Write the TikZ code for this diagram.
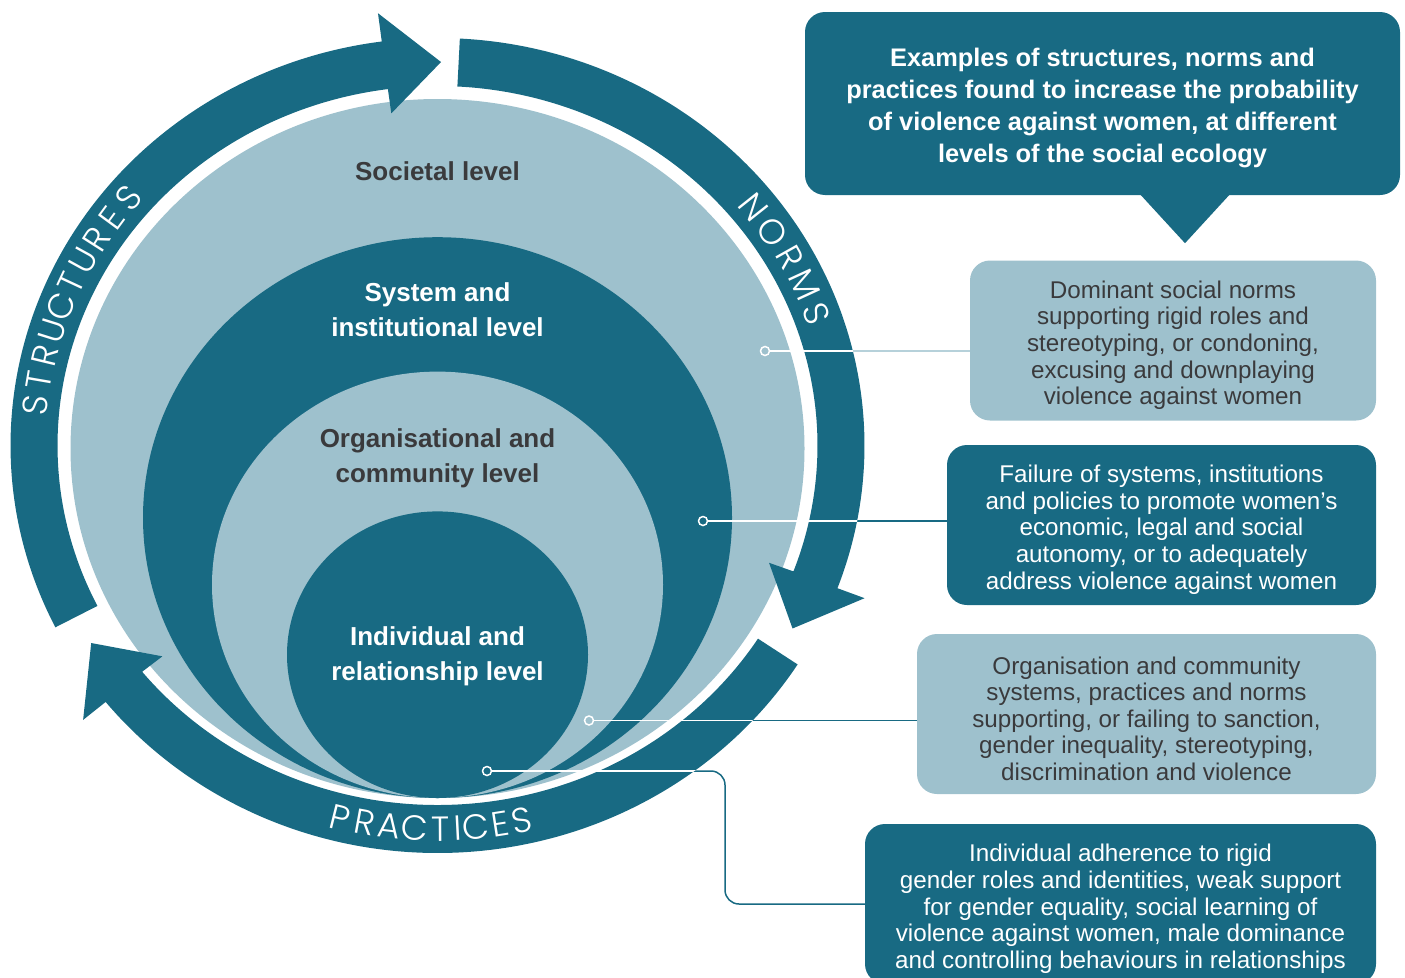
\documentclass[tikz,border=0pt]{standalone}
\usepackage{fontspec}
\setmainfont{Liberation Sans}
\IfFontExistsTF{Poppins Light}{\newfontfamily\arcfont{Poppins Light}}{\newfontfamily\arcfont{Poppins}}
\definecolor{ringdark}{HTML}{186A83}
\definecolor{ringlight}{HTML}{9EC1CD}
\definecolor{labelgray}{HTML}{3A3A3C}
\newcommand{\topstrut}{\rule{0pt}{27pt}}
\tikzset{%
  level/.style     = {font=\fontsize{26}{35}\selectfont\bfseries, align=center, inner sep=0pt},
  infobox/.style   = {rounded corners=20pt, minimum height=160pt, align=center, inner sep=0pt,
                      font=\fontsize{24.2}{26.6}\selectfont},
  lightbox/.style  = {infobox, fill=ringlight, text=labelgray},
  darkbox/.style   = {infobox, fill=ringdark, text=white},
  dot/.style       = {circle, draw=white, line width=1.5pt, minimum size=9pt, inner sep=0pt},
  link/.style      = {line width=1.5pt},
  arcletter/.style = {font=\arcfont\fontsize{35}{35}\selectfont, text=white, inner sep=0pt}
}
% band arrow round the levels: #1 tail angle, #2 angle where the head starts
\newcommand{\ringarrow}[2]{%
  \fill[ringdark] (#1:427 and 407.5)
    arc[start angle=#1, end angle=#2, x radius=427, y radius=407.5]
    -- (#2:456 and 436) -- ({#2-8}:404 and 383.5) -- (#2:354 and 335)
    -- (#2:380 and 359.5)
    arc[start angle=#2, end angle=#1, x radius=380, y radius=359.5] -- cycle;}

\begin{document}
\begin{tikzpicture}[x=1pt, y=-1pt]
  \useasboundingbox (0,0) rectangle (1405,977);

  % levels of the social ecology
  \fill[ringlight] (437.5,448.5) ellipse [x radius=367, y radius=349.5];
  \fill[ringdark]  (437.5,517.6) ellipse [x radius=294.5, y radius=280.4];
  \fill[ringlight] (437.5,584.8) ellipse [x radius=225.5, y radius=213.2];
  \fill[ringdark]  (437.5,654.7) ellipse [x radius=150.5, y radius=143.3];

  \node (societal)       [level, text=labelgray] at (437.5,170.8) {Societal level};
  \node (system)         [level, text=white]     at (437.5,310.2) {System and\\institutional level};
  \node (organisational) [level, text=labelgray] at (437.5,458.3) {Organisational and\\community level};
  \node (individual)     [level, text=white]     at (437.5,656.5) {Individual and\\relationship level};

  % structures, norms and practices
  \begin{scope}[shift={(437.5,445.5)}, yscale=-1]
    \ringarrow{206.5}{97.5}
    \ringarrow{87}{-20.5}
    \ringarrow{-32.5}{-141}
    \foreach \ch [count=\i from 0] in {S,T,R,U,C,T,U,R,E,S}
      \node [arcletter, rotate={84-3.8*\i}] at ({174-3.8*\i}:404 and 383.5) {\ch};
    \foreach \ch [count=\i from 0] in {N,O,R,M,S}
      \node [arcletter, rotate={-51.5-4.6*\i}] at ({38.5-4.6*\i}:404 and 383.5) {\ch};
    \foreach \ch/\a in {P/256, R/259.6, A/263.2, C/266.8, T/270.4, I/272.9, C/275.4, E/278.9, S/282.1}
      \node [arcletter, rotate={\a-270}] at (\a:404 and 383.5) {\ch};
  \end{scope}

  % callout
  \node (callout) [darkbox, minimum width=595pt, minimum height=183pt,
                   font=\fontsize{25.4}{32}\selectfont\bfseries] at (1102.5,103.5)
    {\topstrut Examples of structures, norms and\\practices found to increase the probability\\of violence against women, at different\\levels of the social ecology};
  \fill[ringdark] ([xshift=37.5pt, yshift=1pt]callout.south) -- ([xshift=127.5pt, yshift=1pt]callout.south)
    -- ([xshift=82.5pt, yshift=-48pt]callout.south) -- cycle;

  % examples
  \node (normsbox)  [lightbox, minimum width=406pt] at (1173,340.5)
    {\topstrut Dominant social norms\\supporting rigid roles and\\stereotyping, or condoning,\\excusing and downplaying\\violence against women};
  \node (systembox) [darkbox, minimum width=429pt]  at (1161.5,525)
    {\topstrut Failure of systems, institutions\\and policies to promote women’s\\economic, legal and social\\autonomy, or to adequately\\address violence against women};
  \node (orgbox)    [lightbox, minimum width=459pt] at (1146.5,714)
    {\topstrut Organisation and community\\systems, practices and norms\\supporting, or failing to sanction,\\gender inequality, stereotyping,\\discrimination and violence};
  \node (indivbox)  [darkbox, minimum width=511pt]  at (1120.5,904)
    {\topstrut Individual adherence to rigid\\gender roles and identities, weak support\\for gender equality, social learning of\\violence against women, male dominance\\and controlling behaviours in relationships};

  % connectors
  \node (normsdot)  [dot, fill=ringlight] at (765,351)   {};
  \node (systemdot) [dot, fill=ringdark]  at (703,521)   {};
  \node (orgdot)    [dot, fill=ringlight] at (589,720.5) {};
  \node (indivdot)  [dot, fill=ringdark]  at (487,771)   {};

  \draw[link, ringlight!75!white] (normsdot) -- (normsdot -| normsbox.west);
  \draw[link, ringdark] (systemdot) -- (systemdot -| systembox.west);
  \draw[link, ringdark] (orgdot) -- (orgdot -| orgbox.west);
  \draw[link, ringdark, rounded corners=14pt] (indivdot) -- ++(238,0) |- (indivbox.west);
  \begin{scope}
    \clip (437.5,445.5) ellipse [x radius=427, y radius=407.5];
    \draw[link, white] (normsdot) -- (normsdot -| normsbox.west);
    \draw[link, white] (systemdot) -- (systemdot -| systembox.west);
    \draw[link, white] (orgdot) -- (orgdot -| orgbox.west);
    \draw[link, white] (indivdot) -- ++(238,0);
  \end{scope}
\end{tikzpicture}
\end{document}
